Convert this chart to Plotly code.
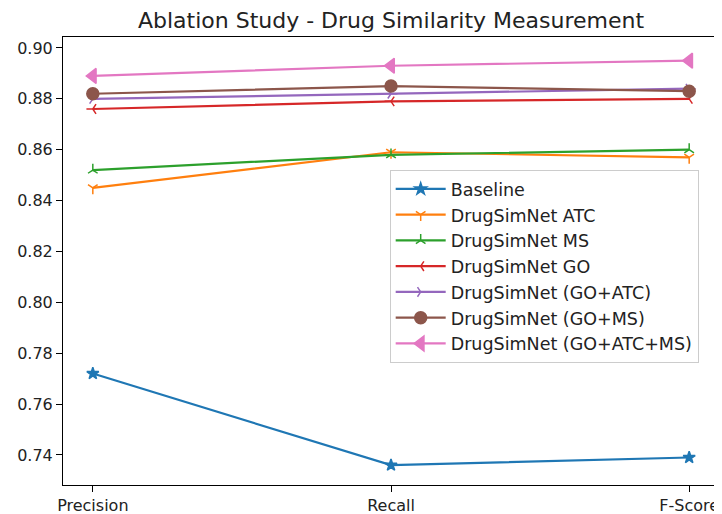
import plotly.graph_objects as go

categories = ["Precision", "Recall", "F-Score"]
series_names = ["Baseline", "DrugSimNet ATC", "DrugSimNet MS", "DrugSimNet GO",
                "DrugSimNet (GO+ATC)", "DrugSimNet (GO+MS)", "DrugSimNet (GO+ATC+MS)"]
baseline = [0.772, 0.736, 0.739]
atc = [0.845, 0.859, 0.857]
ms = [0.852, 0.858, 0.860]
go_only = [0.876, 0.879, 0.880]
go_atc = [0.880, 0.882, 0.884]
go_ms = [0.882, 0.885, 0.883]
go_atc_ms = [0.889, 0.893, 0.895]
y_ticks = [0.74, 0.76, 0.78, 0.80, 0.82, 0.84, 0.86, 0.88, 0.90]

all_series = [baseline, atc, ms, go_only, go_atc, go_ms, go_atc_ms]
colors = ["#1f77b4", "#ff7f0e", "#2ca02c", "#d62728", "#9467bd", "#8c564b", "#e377c2"]
symbols = ["star", "y-down", "y-up", "y-left", "y-right", "circle", "triangle-left"]
sizes = [9, 8, 8, 8, 8, 12, 13]

fig = go.Figure()
for name, vals, c, s, sz in zip(series_names, all_series, colors, symbols, sizes):
    fig.add_trace(go.Scatter(
        x=categories, y=vals, name=name, mode="lines+markers",
        line=dict(color=c, width=2.2),
        marker=dict(symbol=s, size=sz, color=c, line=dict(color=c, width=1.5)),
    ))

# page body has an 8px margin, so the figure is 8px smaller than the window
fig.update_layout(
    width=714, height=506,
    margin=dict(l=55, r=3, t=29, b=29),
    paper_bgcolor="white", plot_bgcolor="white",
    font=dict(family="DejaVu Sans", size=16, color="#222"),
    title=dict(text="Ablation Study - Drug Similarity Measurement",
               x=0.5, xanchor="center", xref="paper", y=0.976, yanchor="middle",
               font=dict(size=22, color="#222")),
    legend=dict(x=0.498, y=0.703, xanchor="left", yanchor="top",
                bgcolor="white", bordercolor="#cccccc", borderwidth=1,
                font=dict(size=17.5, color="#222"), itemwidth=50),
    showlegend=True,
)
fig.update_xaxes(type="category", range=[-0.1, 2.1], showline=True, linecolor="black",
                 linewidth=1, mirror=True, ticks="outside", ticklen=6, tickcolor="black",
                 showgrid=False, zeroline=False, automargin=False)
fig.update_yaxes(range=[0.7282, 0.9043], tickvals=y_ticks, tickformat=".2f",
                 showline=True, linecolor="black", linewidth=1, mirror=True,
                 ticks="outside", ticklen=6, tickcolor="black", showgrid=False,
                 zeroline=False, automargin=False)

fig.write_html("out.html")
